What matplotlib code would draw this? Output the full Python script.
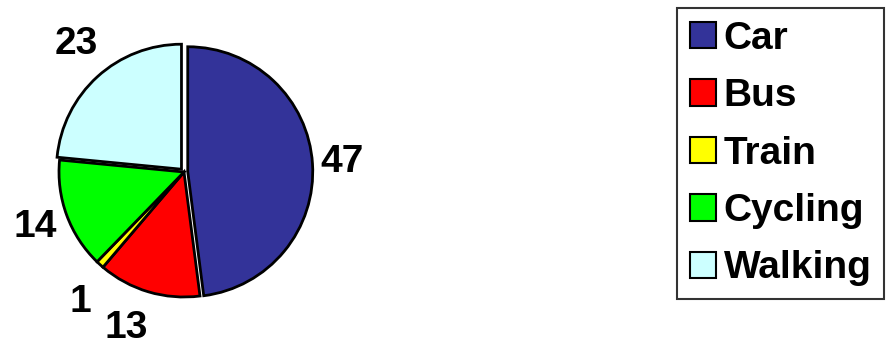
import matplotlib.pyplot as plt
import numpy as np

plt.rcParams['font.family'] = ['Liberation Sans', 'DejaVu Sans']

# données du graphique
modes = ['Car', 'Bus', 'Train', 'Cycling', 'Walking']
values = [47, 13, 1, 14, 23]
colors = ['#333399', '#FF0000', '#FFFF00', '#00FF00', '#CCFFFF']
explode = [0.03, 0, 0, 0, 0.03]

# position des étiquettes (distance, décalage angulaire en degrés)
label_dist = [1.27, 1.33, 1.33, 1.27, 1.34]
label_shift = [0, -4, 3.5, 0, -2]

fig = plt.figure(figsize=(8.86, 3.43), dpi=100)
ax = fig.add_axes([9 / 886, -4 / 343, 350 / 886, 350 / 343])

wedges, _ = ax.pie(values, colors=colors, explode=explode,
                   startangle=90, counterclock=False,
                   wedgeprops=dict(edgecolor='black', linewidth=2))

for w, v, d, s in zip(wedges, values, label_dist, label_shift):
    ang = np.deg2rad((w.theta1 + w.theta2) / 2 + s)
    ax.text(d * np.cos(ang), d * np.sin(ang), str(v), ha='center', va='center',
            fontsize=28, fontweight='bold')

ax.set_xlim(-1.4, 1.4)
ax.set_ylim(-1.4, 1.4)
ax.set_aspect('equal')
ax.axis('off')

leg = fig.legend(wedges, modes, loc='upper left',
                 bbox_to_anchor=(677 / 886, 1 - 8 / 343), borderaxespad=0,
                 prop=dict(size=28, weight='bold'), frameon=True, fancybox=False,
                 edgecolor='black', handlelength=0.67, handleheight=0.67,
                 handletextpad=0.2, labelspacing=0.55, borderpad=0.33)
leg.get_frame().set_linewidth(1.5)
for h in leg.legend_handles:
    h.set_linewidth(1.5)

fig.savefig('out.png', dpi=100)
